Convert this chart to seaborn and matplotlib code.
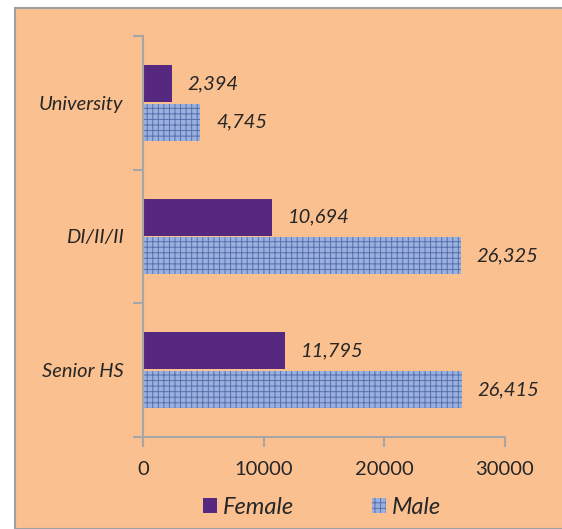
import numpy as np
import pandas as pd
import seaborn as sns
import matplotlib.pyplot as plt
from matplotlib.patches import Rectangle, Patch
from matplotlib.ticker import FixedLocator

# values
levels = ["University", "DI/II/II", "Senior HS"]
female = [2394, 10694, 11795]
male = [4745, 26325, 26415]
x_ticks = [0, 10000, 20000, 30000]

df = pd.DataFrame({
    "level": levels * 2,
    "count": female + male,
    "sex": ["Female"] * 3 + ["Male"] * 3,
})

sns.set_style("white")
plt.rcParams['font.family'] = ['Lato', 'DejaVu Sans']
plt.rcParams['hatch.linewidth'] = 0.7

peach = "#FAC090"
purple = "#56287F"
blue = "#9AB0DE"
axis_grey = "#A6A6A6"
txt = "#262626"

fig = plt.figure(figsize=(5.62, 5.29), dpi=100)
fig.patch.set_facecolor("white")
fig.patches.append(Rectangle((14.5 / 562, 0), 1, (529 - 7.5) / 529,
                             transform=fig.transFigure, facecolor=peach,
                             edgecolor="#A0A0A0", linewidth=1.5, zorder=-10))

ax = fig.add_axes([143 / 562, 92 / 529, 362 / 562, 401 / 529])
ax.set_facecolor("none")

sns.barplot(data=df, y="level", x="count", hue="sex", order=levels,
            hue_order=["Female", "Male"], palette=[purple, blue],
            width=0.58, gap=0.05, orient="h", ax=ax, legend=False,
            saturation=1)

# fabric-like texture on the male bars
for p in ax.containers[1]:
    p.set_hatch("+++")
    p.set_edgecolor("#5670AD")
    p.set_linewidth(0)
for p in ax.containers[0]:
    p.set_linewidth(0)

for cont, vals in zip(ax.containers, [female, male]):
    ax.bar_label(cont, labels=[f"{v:,}" for v in vals], padding=11.5,
                 fontsize=14.5, fontstyle="italic", color=txt)

ax.set_xlim(0, 30000)
ax.set_ylim(2.5, -0.5)
ax.set_xticks(x_ticks)
ax.set_xticklabels([str(t) for t in x_ticks], fontsize=14.5, color=txt)
ax.set_yticks(range(len(levels)))
ax.set_yticklabels(levels, fontsize=14.5, fontstyle="italic", color=txt)
ax.yaxis.set_minor_locator(FixedLocator([-0.5, 0.5, 1.5, 2.5]))
ax.tick_params(axis="y", which="major", length=0, pad=14)
ax.tick_params(axis="y", which="minor", length=7, width=1.5, color=axis_grey, left=True)
ax.tick_params(axis="x", length=7, width=1.5, color=axis_grey, bottom=True, pad=10)
ax.set_xlabel("")
ax.set_ylabel("")

sns.despine(ax=ax)
for s in ["left", "bottom"]:
    ax.spines[s].set_color(axis_grey)
    ax.spines[s].set_linewidth(1.5)

handles = [Patch(facecolor=purple, edgecolor="none", label="Female"),
           Patch(facecolor=blue, edgecolor="#5670AD", hatch="+++", linewidth=0, label="Male")]
fig.legend(handles=handles, loc="center", bbox_to_anchor=(322 / 562, 21.5 / 529),
           ncol=2, frameon=False, handlelength=0.6, handleheight=0.6,
           handletextpad=0.25, columnspacing=3.3,
           prop={"size": 17, "style": "italic"})

fig.savefig("out.png", dpi=100)
